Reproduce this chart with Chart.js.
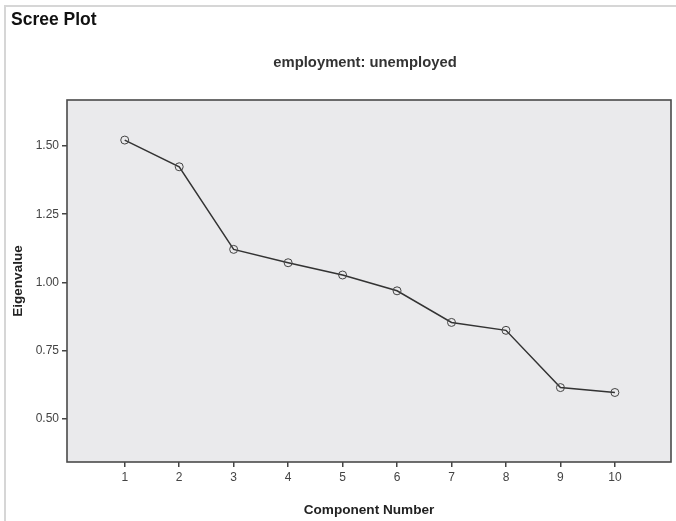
<!DOCTYPE html>
<html>
<head>
<meta charset="utf-8">
<title>Scree Plot</title>
<script src="https://cdn.jsdelivr.net/npm/chart.js@4.4.1/dist/chart.umd.min.js"></script>
<style>
  html, body { margin: 0; padding: 0; background: #fff; }
  #wrap { position: relative; width: 676px; height: 521px; }
</style>
</head>
<body>
<div id="wrap"><canvas id="scree" width="676" height="521"></canvas></div>
<script>
// ── Data ──────────────────────────────────────────────────────
const components = [1, 2, 3, 4, 5, 6, 7, 8, 9, 10];
const eigenvalues = [1.522, 1.424, 1.121, 1.072, 1.027, 0.969, 0.853, 0.824, 0.614, 0.596];
const yTicks = [0.50, 0.75, 1.00, 1.25, 1.50];

const FONT = '"Liberation Sans", Arial, sans-serif';
const INK = '#444';

// ── Frame, plot background and titles ─────────────────────────
const frame = {
  id: 'frame',
  beforeDraw(chart) {
    const { ctx, chartArea: a, width, height } = chart;
    ctx.save();
    ctx.fillStyle = '#fff';
    ctx.fillRect(0, 0, width, height);

    // light outer border (top + left)
    ctx.strokeStyle = '#d6d6d6';
    ctx.lineWidth = 2;
    ctx.beginPath();
    ctx.moveTo(5, height);
    ctx.lineTo(5, 6);
    ctx.lineTo(width, 6);
    ctx.stroke();

    ctx.fillStyle = '#eaeaec';
    ctx.fillRect(a.left, a.top, a.right - a.left, a.bottom - a.top);

    ctx.fillStyle = '#111';
    ctx.font = `bold 17.5px ${FONT}`;
    ctx.textBaseline = 'alphabetic';
    ctx.textAlign = 'left';
    ctx.fillText('Scree Plot', 11, 25);

    ctx.fillStyle = '#333';
    ctx.font = `bold 14.8px ${FONT}`;
    ctx.textAlign = 'center';
    ctx.fillText('employment: unemployed', 365, 67);
    ctx.restore();
  },
  beforeDatasetsDraw(chart) {
    const { ctx, chartArea: a } = chart;
    ctx.save();
    ctx.strokeStyle = '#4a4a4a';
    ctx.lineWidth = 1.6;
    ctx.strokeRect(a.left, a.top, a.right - a.left, a.bottom - a.top);
    ctx.restore();
  }
};

new Chart(document.getElementById('scree'), {
  type: 'line',
  data: {
    datasets: [{
      label: 'Eigenvalue',
      data: components.map((c, i) => ({ x: c, y: eigenvalues[i] })),
      borderColor: '#333',
      borderWidth: 1.5,
      pointRadius: 4,
      pointHoverRadius: 4,
      pointBorderWidth: 1,
      pointBorderColor: '#444',
      pointBackgroundColor: 'rgba(0,0,0,0)',
      tension: 0
    }]
  },
  options: {
    responsive: false,
    animation: false,
    events: [],
    layout: { padding: { top: 100, right: 5, bottom: 0, left: 0 } },
    plugins: {
      legend: { display: false },
      tooltip: { enabled: false }
    },
    scales: {
      x: {
        type: 'linear',
        min: -0.06,
        max: 11.03,
        afterBuildTicks: s => { s.ticks = components.map(v => ({ value: v })); },
        afterFit: s => { s.height = 59; },
        ticks: {
          color: INK,
          font: { family: FONT, size: 12 },
          padding: 3,
          maxRotation: 0,
          callback: v => String(v)
        },
        grid: { drawOnChartArea: false, drawTicks: true, tickLength: 5, color: INK, lineWidth: 1.5 },
        border: { display: false },
        title: {
          display: true,
          text: 'Component Number',
          color: '#222',
          font: { family: FONT, size: 13.6, weight: 'bold' },
          padding: { top: 0, bottom: 3 }
        }
      },
      y: {
        min: 0.341,
        max: 1.669,
        afterBuildTicks: s => { s.ticks = yTicks.map(v => ({ value: v })); },
        afterFit: s => { s.width = 67; },
        ticks: {
          color: INK,
          font: { family: FONT, size: 12 },
          padding: 3,
          callback: v => Number(v).toFixed(2)
        },
        grid: { drawOnChartArea: false, drawTicks: true, tickLength: 5, color: INK, lineWidth: 1.5 },
        border: { display: false },
        title: {
          display: true,
          text: 'Eigenvalue',
          color: '#222',
          font: { family: FONT, size: 13.5, weight: 'bold' },
          padding: { top: 10, bottom: 0 }
        }
      }
    }
  },
  plugins: [frame]
});
</script>
</body>
</html>
